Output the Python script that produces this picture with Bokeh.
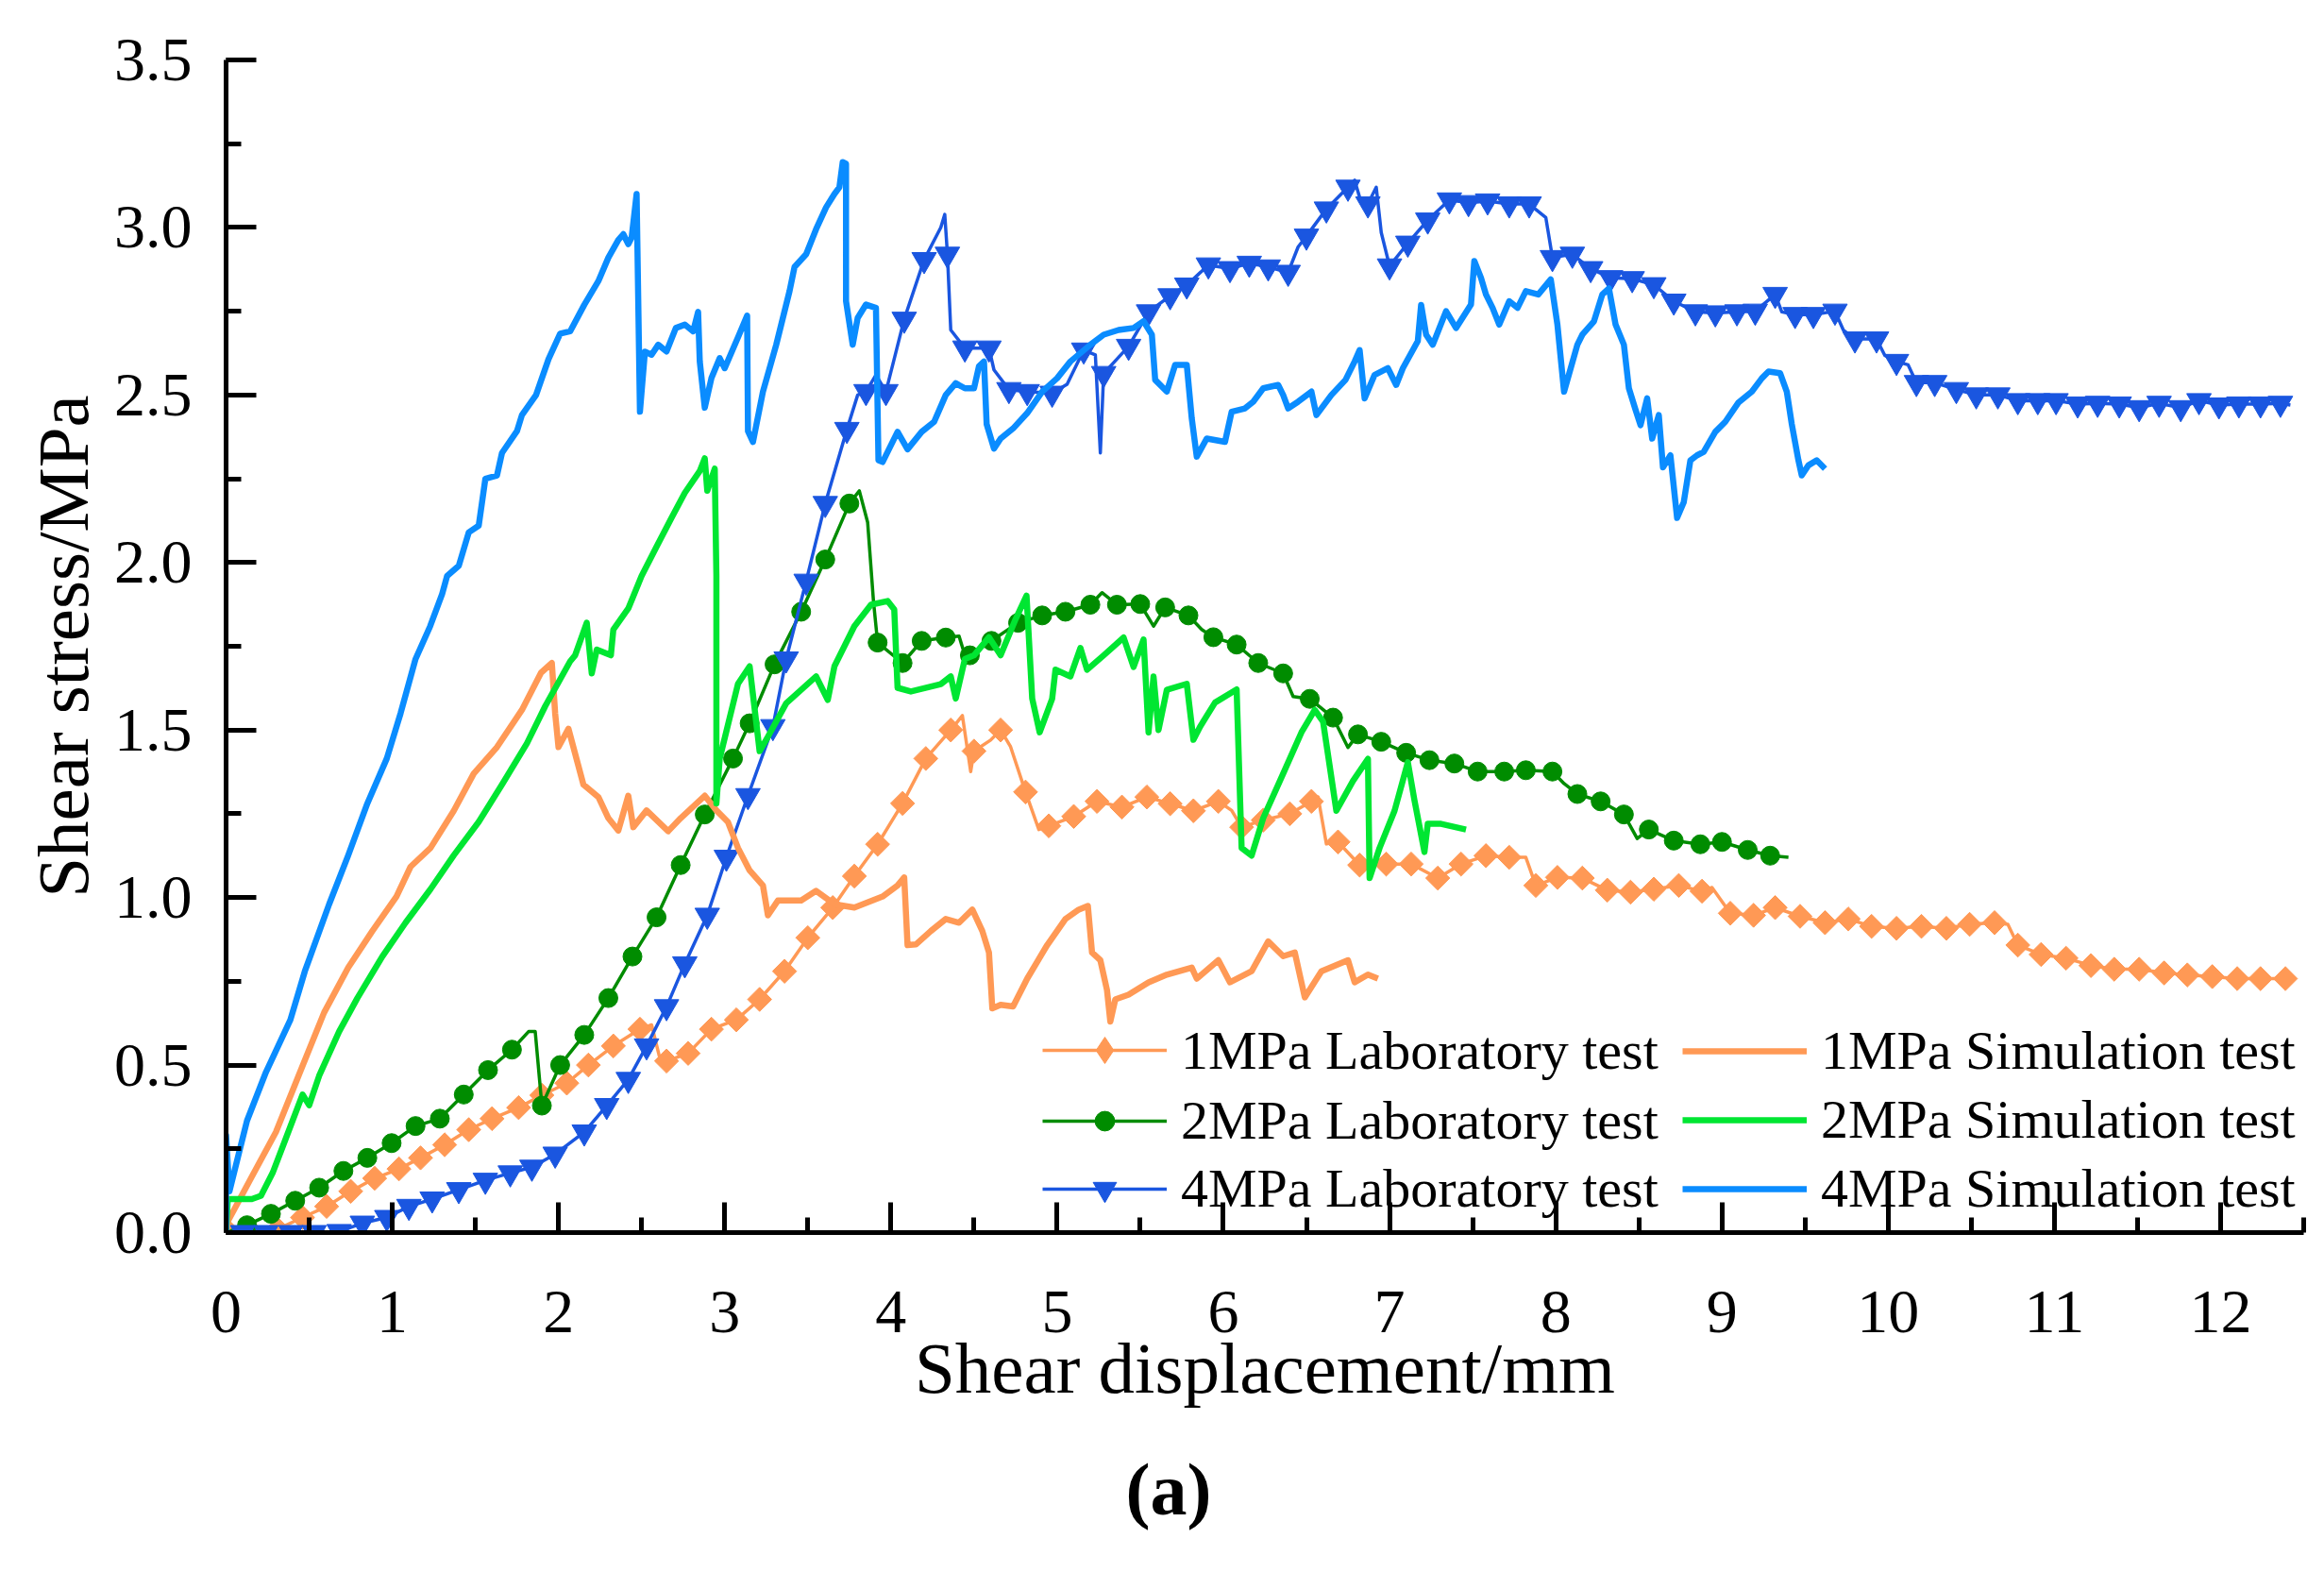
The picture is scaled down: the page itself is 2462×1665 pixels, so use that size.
import numpy as np
from bokeh.plotting import figure
from bokeh.models import (Range1d, SingleIntervalTicker, PrintfTickFormatter,
                          Legend, LegendItem, Title)
from bokeh.embed import file_html
from bokeh.resources import INLINE

FONT = "Liberation Serif"

# ---------------- data ----------------
# 1MPa laboratory test: line vertices and marker positions
lab1_line = [(0.0,0.0),(0.02,0.0),(0.16,0.0),(0.31,0.01),(0.46,0.045),(0.605,0.078),(0.75,0.123),
    (0.894,0.162),(1.04,0.19),(1.17,0.223),(1.315,0.262),(1.46,0.307),(1.60,0.34),(1.76,0.373),
    (1.90,0.41),(2.05,0.446),(2.18,0.50),(2.33,0.557),(2.49,0.607),(2.56,0.62),(2.62,0.50),
    (2.65,0.512),(2.78,0.535),(2.92,0.607),(3.07,0.635),(3.21,0.696),(3.36,0.78),(3.50,0.88),
    (3.65,0.97),(3.78,1.064),(3.92,1.159),(4.07,1.281),(4.21,1.415),(4.36,1.50),(4.43,1.543),
    (4.48,1.376),(4.50,1.437),(4.60,1.47),(4.66,1.50),(4.72,1.45),(4.81,1.315),(4.89,1.203),
    (4.95,1.214),(5.10,1.242),(5.24,1.287),(5.39,1.27),(5.54,1.30),(5.68,1.28),(5.82,1.259),
    (5.97,1.287),(6.05,1.26),(6.11,1.21),(6.24,1.231),(6.40,1.25),(6.53,1.287),(6.57,1.30),
    (6.62,1.16),(6.69,1.166),(6.82,1.097),(6.98,1.10),(7.13,1.10),(7.29,1.058),(7.43,1.10),
    (7.58,1.125),(7.72,1.12),(7.82,1.12),(7.88,1.036),(8.01,1.06),(8.16,1.058),(8.31,1.022),
    (8.45,1.016),(8.59,1.025),(8.74,1.036),(8.88,1.019),(8.94,1.03),(9.05,0.953),(9.19,0.947),
    (9.32,0.97),(9.47,0.944),(9.62,0.925),(9.76,0.936),(9.90,0.914),(10.05,0.908),(10.20,0.914),
    (10.35,0.908),(10.49,0.92),(10.64,0.925),(10.72,0.92),(10.78,0.858),(10.92,0.83),(11.07,0.819),
    (11.22,0.797),(11.36,0.786),(11.51,0.786),(11.66,0.775),(11.80,0.769),(11.95,0.764),
    (12.10,0.758),(12.24,0.758),(12.39,0.758)]
lab1_marks = [(0.02,0.0),(0.16,0.0),(0.31,0.01),(0.46,0.045),(0.605,0.078),(0.75,0.123),(0.894,0.162),
    (1.04,0.19),(1.17,0.223),(1.315,0.262),(1.46,0.307),(1.60,0.34),(1.76,0.373),(1.90,0.41),
    (2.05,0.446),(2.18,0.50),(2.33,0.557),(2.49,0.607),(2.65,0.512),(2.78,0.535),(2.92,0.607),
    (3.07,0.635),(3.21,0.696),(3.36,0.78),(3.50,0.88),(3.65,0.97),(3.78,1.064),(3.92,1.159),
    (4.07,1.281),(4.21,1.415),(4.36,1.50),(4.50,1.437),(4.66,1.50),(4.81,1.315),(4.95,1.214),
    (5.10,1.242),(5.24,1.287),(5.39,1.27),(5.54,1.30),(5.68,1.28),(5.82,1.259),(5.97,1.287),
    (6.11,1.21),(6.24,1.231),(6.40,1.25),(6.53,1.287),(6.69,1.166),(6.82,1.097),(6.98,1.10),
    (7.13,1.10),(7.29,1.058),(7.43,1.10),(7.58,1.125),(7.72,1.12),(7.88,1.036),(8.01,1.06),
    (8.16,1.058),(8.31,1.022),(8.45,1.016),(8.59,1.025),(8.74,1.036),(8.88,1.019),(9.05,0.953),
    (9.19,0.947),(9.32,0.97),(9.47,0.944),(9.62,0.925),(9.76,0.936),(9.90,0.914),(10.05,0.908),
    (10.20,0.914),(10.35,0.908),(10.49,0.92),(10.64,0.925),(10.78,0.858),(10.92,0.83),
    (11.07,0.819),(11.22,0.797),(11.36,0.786),(11.51,0.786),(11.66,0.775),(11.80,0.769),
    (11.95,0.764),(12.10,0.758),(12.24,0.758),(12.39,0.758)]

# 2MPa laboratory test
lab2_line = [(0.0,0.0),(0.126,0.022),(0.27,0.056),(0.416,0.095),(0.56,0.134),(0.706,0.184),
    (0.85,0.223),(0.996,0.267),(1.14,0.318),(1.286,0.34),(1.43,0.412),(1.576,0.485),(1.72,0.546),
    (1.82,0.60),(1.86,0.60),(1.90,0.379),(2.01,0.50),(2.155,0.59),(2.30,0.70),(2.445,0.824),
    (2.59,0.941),(2.735,1.097),(2.88,1.248),(3.05,1.415),(3.15,1.52),(3.30,1.696),(3.46,1.853),
    (3.605,2.009),(3.75,2.176),(3.81,2.214),(3.86,2.12),(3.895,1.885),(3.92,1.761),(4.07,1.70),
    (4.185,1.766),(4.33,1.776),(4.41,1.78),(4.445,1.723),(4.475,1.723),(4.605,1.766),(4.765,1.82),
    (4.91,1.842),(5.05,1.853),(5.20,1.874),(5.27,1.91),(5.36,1.874),(5.50,1.876),(5.58,1.81),
    (5.65,1.866),(5.79,1.842),(5.87,1.80),(5.94,1.777),(6.08,1.755),(6.21,1.70),(6.36,1.669),
    (6.42,1.60),(6.52,1.593),(6.66,1.537),(6.75,1.448),(6.81,1.487),(6.95,1.465),(7.10,1.432),
    (7.24,1.41),(7.39,1.40),(7.53,1.376),(7.69,1.376),(7.82,1.38),(7.98,1.376),(8.05,1.34),
    (8.13,1.309),(8.27,1.287),(8.41,1.248),(8.49,1.176),(8.56,1.203),(8.71,1.17),(8.87,1.159),
    (9.00,1.166),(9.155,1.142),(9.29,1.125),(9.40,1.12)]
lab2_marks = [(0.126,0.022),(0.27,0.056),(0.416,0.095),(0.56,0.134),(0.706,0.184),(0.85,0.223),
    (0.996,0.267),(1.14,0.318),(1.286,0.34),(1.43,0.412),(1.576,0.485),(1.72,0.546),(1.90,0.379),
    (2.01,0.50),(2.155,0.59),(2.30,0.70),(2.445,0.824),(2.59,0.941),(2.735,1.097),(2.88,1.248),
    (3.05,1.415),(3.15,1.52),(3.30,1.696),(3.46,1.853),(3.605,2.009),(3.75,2.176),(3.92,1.761),
    (4.07,1.70),(4.185,1.766),(4.33,1.776),(4.475,1.723),(4.605,1.766),(4.765,1.82),(4.91,1.842),
    (5.05,1.853),(5.20,1.874),(5.36,1.874),(5.50,1.876),(5.65,1.866),(5.79,1.842),(5.94,1.777),
    (6.08,1.755),(6.21,1.70),(6.36,1.669),(6.52,1.593),(6.66,1.537),(6.81,1.487),(6.95,1.465),
    (7.10,1.432),(7.24,1.41),(7.39,1.40),(7.53,1.376),(7.69,1.376),(7.82,1.38),(7.98,1.376),
    (8.13,1.309),(8.27,1.287),(8.41,1.248),(8.56,1.203),(8.71,1.17),(8.87,1.159),(9.00,1.166),
    (9.155,1.142),(9.29,1.125)]

# 4MPa laboratory test
lab4_line = [(0.0,0.0),(0.1,0.0),(0.24,0.0),(0.39,0.0),(0.53,0.0),(0.68,0.003),(0.82,0.028),
    (0.967,0.045),(1.10,0.078),(1.24,0.10),(1.40,0.128),(1.56,0.156),(1.71,0.178),(1.84,0.195),
    (1.98,0.234),(2.155,0.30),(2.29,0.379),(2.42,0.457),(2.53,0.557),(2.65,0.674),(2.76,0.802),
    (2.895,0.947),(3.01,1.12),(3.14,1.304),(3.29,1.51),(3.37,1.712),(3.49,1.944),(3.605,2.176),
    (3.735,2.397),(3.80,2.50),(3.85,2.51),(3.91,2.56),(3.97,2.51),(4.08,2.726),(4.20,2.904),
    (4.30,3.0),(4.324,3.039),(4.34,2.92),(4.36,2.694),(4.445,2.64),(4.59,2.64),(4.62,2.575),
    (4.71,2.516),(4.82,2.51),(4.97,2.505),(5.06,2.532),(5.16,2.634),(5.23,2.62),(5.26,2.327),
    (5.28,2.564),(5.43,2.645),(5.55,2.748),(5.68,2.796),(5.78,2.828),(5.91,2.888),(6.04,2.877),
    (6.156,2.893),(6.27,2.882),(6.39,2.866),(6.45,2.942),(6.50,2.974),(6.62,3.055),(6.75,3.12),
    (6.79,3.141),(6.82,3.09),(6.87,3.07),(6.92,3.12),(6.95,2.985),(7.0,2.885),(7.11,2.953),
    (7.23,3.022),(7.36,3.082),(7.475,3.074),(7.59,3.079),(7.72,3.07),(7.84,3.07),(7.94,3.03),
    (7.98,2.91),(8.10,2.92),(8.21,2.877),(8.33,2.85),(8.46,2.847),(8.59,2.829),(8.71,2.78),
    (8.84,2.748),(8.96,2.745),(9.09,2.748),(9.20,2.75),(9.32,2.80),(9.36,2.748),(9.44,2.74),
    (9.55,2.74),(9.68,2.75),(9.73,2.694),(9.80,2.667),(9.93,2.667),(9.98,2.618),(10.05,2.60),
    (10.12,2.59),(10.17,2.537),(10.28,2.537),(10.41,2.516),(10.53,2.50),(10.66,2.50),(10.78,2.483),
    (10.90,2.483),(11.01,2.483),(11.14,2.473),(11.26,2.475),(11.39,2.473),(11.51,2.462),
    (11.63,2.475),(11.76,2.462),(11.87,2.483),(11.99,2.47),(12.11,2.473),(12.24,2.473),
    (12.36,2.475),(12.42,2.47)]
lab4_marks = [(0.1,0.0),(0.24,0.0),(0.39,0.0),(0.53,0.0),(0.68,0.003),(0.82,0.028),(0.967,0.045),
    (1.10,0.078),(1.24,0.10),(1.40,0.128),(1.56,0.156),(1.71,0.178),(1.84,0.195),(1.98,0.234),
    (2.155,0.30),(2.29,0.379),(2.42,0.457),(2.53,0.557),(2.65,0.674),(2.76,0.802),(2.895,0.947),
    (3.01,1.12),(3.14,1.304),(3.29,1.51),(3.37,1.712),(3.49,1.944),(3.605,2.176),(3.735,2.397),
    (3.85,2.51),(3.97,2.51),(4.08,2.726),(4.20,2.904),(4.34,2.92),(4.445,2.64),(4.59,2.64),
    (4.71,2.516),(4.82,2.51),(4.97,2.505),(5.16,2.634),(5.28,2.564),(5.43,2.645),(5.55,2.748),
    (5.68,2.796),(5.78,2.828),(5.91,2.888),(6.04,2.877),(6.156,2.893),(6.27,2.882),(6.39,2.866),
    (6.50,2.974),(6.62,3.055),(6.75,3.12),(6.87,3.07),(7.0,2.885),(7.11,2.953),(7.23,3.022),
    (7.36,3.082),(7.475,3.074),(7.59,3.079),(7.72,3.07),(7.84,3.07),(7.98,2.91),(8.10,2.92),
    (8.21,2.877),(8.33,2.85),(8.46,2.847),(8.59,2.829),(8.71,2.78),(8.84,2.748),(8.96,2.745),
    (9.09,2.748),(9.20,2.75),(9.32,2.80),(9.44,2.74),(9.55,2.74),(9.68,2.75),(9.80,2.667),
    (9.93,2.667),(10.05,2.60),(10.17,2.537),(10.28,2.537),(10.41,2.516),(10.53,2.50),(10.66,2.50),
    (10.78,2.483),(10.90,2.483),(11.01,2.483),(11.14,2.473),(11.26,2.475),(11.39,2.473),
    (11.51,2.462),(11.63,2.475),(11.76,2.462),(11.87,2.483),(11.99,2.47),(12.11,2.473),
    (12.24,2.473),(12.36,2.475)]

# 1MPa simulation test
sim1 = [(0.0,0.0),(0.01,0.033),(0.155,0.167),(0.30,0.30),(0.445,0.479),(0.59,0.657),(0.735,0.791),
    (0.88,0.90),(1.025,1.003),(1.11,1.092),(1.23,1.148),(1.37,1.259),(1.49,1.37),(1.63,1.449),
    (1.78,1.56),(1.895,1.671),(1.96,1.70),(1.98,1.549),(2.0,1.449),(2.06,1.504),(2.15,1.337),
    (2.24,1.30),(2.30,1.237),(2.36,1.20),(2.42,1.304),(2.45,1.21),(2.53,1.26),(2.66,1.198),
    (2.735,1.237),(2.88,1.304),(2.95,1.26),(3.02,1.225),(3.08,1.148),(3.15,1.081),(3.23,1.036),
    (3.26,0.947),(3.32,0.991),(3.46,0.991),(3.55,1.02),(3.66,0.98),(3.78,0.97),(3.95,1.003),
    (4.04,1.036),(4.08,1.06),(4.10,0.858),(4.15,0.86),(4.24,0.90),(4.33,0.936),(4.41,0.925),
    (4.49,0.964),(4.55,0.90),(4.59,0.836),(4.61,0.669),(4.66,0.68),(4.735,0.675),(4.82,0.758),
    (4.94,0.858),(5.05,0.936),(5.13,0.964),(5.185,0.975),(5.21,0.836),(5.26,0.813),(5.30,0.724),
    (5.32,0.63),(5.35,0.696),(5.43,0.71),(5.55,0.747),(5.66,0.77),(5.81,0.791),(5.84,0.758),
    (5.97,0.813),(6.04,0.747),(6.17,0.78),(6.27,0.869),(6.36,0.825),(6.43,0.836),(6.49,0.702),
    (6.59,0.78),(6.75,0.813),(6.79,0.747),(6.87,0.77),(6.93,0.758)]

# 2MPa simulation test
sim2 = [(0.0,0.0),(0.01,0.10),(0.155,0.10),(0.21,0.11),(0.28,0.178),(0.358,0.279),(0.46,0.412),
    (0.50,0.38),(0.56,0.468),(0.68,0.60),(0.79,0.70),(0.94,0.824),(1.08,0.925),(1.23,1.025),
    (1.37,1.126),(1.52,1.226),(1.66,1.337),(1.81,1.46),(1.92,1.571),(2.07,1.705),(2.10,1.723),
    (2.17,1.82),(2.20,1.669),(2.23,1.74),(2.315,1.723),(2.33,1.80),(2.42,1.863),(2.50,1.96),
    (2.59,2.047),(2.68,2.133),(2.76,2.208),(2.85,2.273),(2.88,2.311),(2.895,2.214),(2.94,2.28),
    (2.95,1.96),(2.95,1.281),(2.97,1.415),(3.08,1.638),(3.15,1.69),(3.21,1.437),(3.26,1.48),
    (3.37,1.58),(3.55,1.66),(3.62,1.59),(3.66,1.69),(3.78,1.81),(3.88,1.874),(3.98,1.885),
    (4.02,1.86),(4.04,1.626),(4.12,1.615),(4.30,1.637),(4.36,1.66),(4.39,1.594),(4.445,1.712),
    (4.50,1.723),(4.59,1.777),(4.66,1.723),(4.75,1.831),(4.816,1.901),(4.85,1.594),(4.895,1.493),
    (4.97,1.593),(4.99,1.68),(5.08,1.66),(5.14,1.745),(5.18,1.68),(5.28,1.723),(5.40,1.776),
    (5.46,1.688),(5.52,1.77),(5.55,1.493),(5.58,1.66),(5.61,1.5),(5.66,1.62),(5.78,1.638),
    (5.82,1.471),(5.86,1.51),(5.95,1.582),(6.08,1.621),(6.11,1.148),(6.17,1.125),(6.24,1.237),
    (6.36,1.37),(6.47,1.493),(6.55,1.56),(6.60,1.525),(6.68,1.259),(6.78,1.348),(6.87,1.414),
    (6.88,1.058),(6.94,1.148),(7.03,1.259),(7.11,1.404),(7.15,1.29),(7.21,1.136),(7.23,1.22),
    (7.31,1.22),(7.46,1.203)]

# 4MPa simulation test
sim4 = [(0.0,0.0),(0.0,0.29),(0.02,0.123),(0.126,0.334),(0.24,0.479),(0.387,0.635),(0.474,0.78),
    (0.62,0.98),(0.735,1.126),(0.85,1.281),(0.967,1.415),(1.05,1.55),(1.14,1.712),(1.228,1.81),
    (1.30,1.906),(1.33,1.96),(1.40,1.99),(1.46,2.09),(1.52,2.11),(1.56,2.25),(1.63,2.26),
    (1.66,2.327),(1.75,2.392),(1.78,2.44),(1.865,2.50),(1.94,2.607),(2.01,2.683),(2.07,2.69),
    (2.155,2.769),(2.24,2.84),(2.30,2.91),(2.36,2.963),(2.39,2.98),(2.42,2.95),(2.44,2.97),
    (2.47,3.10),(2.49,2.45),(2.52,2.629),(2.56,2.62),(2.60,2.65),(2.65,2.63),(2.706,2.70),
    (2.76,2.71),(2.81,2.69),(2.84,2.748),(2.85,2.60),(2.88,2.462),(2.92,2.55),(2.97,2.61),
    (3.0,2.58),(3.08,2.672),(3.135,2.737),(3.14,2.392),(3.17,2.36),(3.23,2.51),(3.31,2.65),
    (3.39,2.81),(3.42,2.882),(3.49,2.92),(3.55,2.995),(3.61,3.06),(3.66,3.10),(3.69,3.12),
    (3.71,3.195),(3.73,3.19),(3.73,2.78),(3.77,2.65),(3.80,2.73),(3.85,2.77),(3.91,2.76),
    (3.925,2.305),(3.95,2.30),(4.04,2.39),(4.10,2.338),(4.185,2.39),(4.26,2.42),(4.33,2.50),
    (4.39,2.535),(4.445,2.52),(4.50,2.52),(4.53,2.586),(4.56,2.60),(4.576,2.413),(4.62,2.34),
    (4.66,2.37),(4.735,2.40),(4.82,2.446),(4.91,2.51),(5.0,2.55),(5.08,2.60),(5.20,2.65),
    (5.28,2.68),(5.37,2.694),(5.46,2.70),(5.52,2.72),(5.57,2.68),(5.59,2.545),(5.66,2.51),
    (5.71,2.59),(5.78,2.59),(5.81,2.43),(5.84,2.316),(5.90,2.37),(6.01,2.36),(6.05,2.45),
    (6.13,2.46),(6.18,2.48),(6.24,2.52),(6.33,2.53),(6.36,2.50),(6.39,2.46),(6.45,2.48),
    (6.53,2.51),(6.56,2.44),(6.65,2.50),(6.735,2.545),(6.79,2.60),(6.82,2.634),(6.85,2.49),
    (6.91,2.56),(6.99,2.58),(7.04,2.53),(7.08,2.58),(7.17,2.661),(7.19,2.769),(7.22,2.68),
    (7.26,2.65),(7.34,2.75),(7.40,2.70),(7.49,2.77),(7.51,2.90),(7.55,2.85),(7.58,2.80),
    (7.62,2.76),(7.66,2.71),(7.72,2.78),(7.77,2.76),(7.82,2.81),(7.895,2.80),(7.97,2.845),
    (8.01,2.71),(8.05,2.51),(8.13,2.65),(8.16,2.68),(8.23,2.72),(8.28,2.80),(8.32,2.818),
    (8.36,2.71),(8.41,2.65),(8.44,2.52),(8.48,2.456),(8.51,2.41),(8.55,2.49),(8.58,2.37),
    (8.62,2.44),(8.645,2.284),(8.69,2.32),(8.73,2.133),(8.77,2.18),(8.81,2.305),(8.85,2.32),
    (8.89,2.33),(8.96,2.39),(9.02,2.42),(9.10,2.478),(9.18,2.51),(9.24,2.55),(9.28,2.57),
    (9.35,2.565),(9.39,2.51),(9.42,2.413),(9.46,2.305),(9.48,2.26),(9.52,2.29),(9.57,2.305),
    (9.62,2.28)]

labels_lab = ["1MPa Laboratory test", "2MPa Laboratory test", "4MPa Laboratory test"]
labels_sim = ["1MPa Simulation test", "2MPa Simulation test", "4MPa Simulation test"]
panel_tag = "(a)"

ORANGE = "#FF9955"
DKGREEN = "#008C00"
GREEN = "#00E632"
BLUE = "#1A56E0"
LTBLUE = "#0A8CFF"


def xs(pts):
    return [p[0] for p in pts]


def ys(pts):
    return [p[1] for p in pts]


p = figure(frame_width=2201, frame_height=1242,
           x_range=Range1d(0, 12.5), y_range=Range1d(0, 3.5),
           output_backend="svg", toolbar_location=None,
           min_border_left=239, min_border_right=14, min_border_top=63, min_border_bottom=340,
           background_fill_color="white", border_fill_color="white")
p.outline_line_color = None
p.grid.visible = False

p.xaxis.ticker = SingleIntervalTicker(interval=1, num_minor_ticks=2)
p.yaxis.ticker = SingleIntervalTicker(interval=0.5, num_minor_ticks=2)
p.yaxis.formatter = PrintfTickFormatter(format="%.1f")
p.xaxis.axis_label = "Shear displacement/mm"
p.yaxis.axis_label = "Shear stress/MPa"

for ax in (p.xaxis[0], p.yaxis[0]):
    ax.axis_line_width = 5
    ax.axis_line_color = "black"
    ax.major_tick_line_width = 5
    ax.minor_tick_line_width = 5
    ax.major_tick_line_color = "black"
    ax.minor_tick_line_color = "black"
    ax.major_tick_in = 32
    ax.major_tick_out = 0
    ax.minor_tick_in = 16
    ax.minor_tick_out = 0
    ax.major_label_text_font = FONT
    ax.major_label_text_font_size = "66px"
    ax.major_label_text_color = "black"
    ax.axis_label_text_font = FONT
    ax.axis_label_text_font_size = "77px"
    ax.axis_label_text_font_style = "normal"
    ax.axis_label_text_color = "black"

p.xaxis.major_label_standoff = 62
p.yaxis.major_label_standoff = 36
p.xaxis.axis_label_standoff = -8
p.yaxis.axis_label_standoff = 8

LAB_W = 3.5
SIM_W = 6.5

l1 = p.line(xs(lab1_line), ys(lab1_line), color=ORANGE, line_width=LAB_W, line_join="round")
m1 = p.scatter(xs(lab1_marks), ys(lab1_marks), marker="square", angle=np.pi / 4, size=18,
               fill_color=ORANGE, line_color=ORANGE)
# same points as an upright diamond, hidden in the plot, used only for the legend key
k1 = p.scatter(xs(lab1_marks), ys(lab1_marks), marker="diamond", size=30,
               fill_color=ORANGE, line_color=ORANGE, visible=False)
l2 = p.line(xs(lab2_line), ys(lab2_line), color=DKGREEN, line_width=LAB_W, line_join="round")
m2 = p.scatter(xs(lab2_marks), ys(lab2_marks), marker="circle", size=20,
               fill_color=DKGREEN, line_color=DKGREEN)
l4 = p.line(xs(lab4_line), ys(lab4_line), color=BLUE, line_width=LAB_W, line_join="round")
m4 = p.scatter(xs(lab4_marks), ys(lab4_marks), marker="inverted_triangle", size=26,
               fill_color=BLUE, line_color=BLUE)

s1 = p.line(xs(sim1), ys(sim1), color=ORANGE, line_width=SIM_W, line_join="round")
s2 = p.line(xs(sim2), ys(sim2), color=GREEN, line_width=SIM_W, line_join="round")
s4 = p.line(xs(sim4), ys(sim4), color=LTBLUE, line_width=SIM_W, line_join="round")


def make_legend(items, loc, glyph_h):
    lg = Legend(items=items, location=loc)
    lg.label_text_font = FONT
    lg.label_text_font_size = "58px"
    lg.label_text_color = "black"
    lg.glyph_width = 132
    lg.glyph_height = glyph_h
    lg.label_height = 66
    lg.label_standoff = 15
    lg.spacing = 6
    lg.padding = 0
    lg.margin = 0
    lg.border_line_alpha = 0
    lg.background_fill_alpha = 0
    lg.inactive_fill_alpha = 0
    return lg


# laboratory keys: one legend per row so each marker key gets its own size
p.add_layout(make_legend([LegendItem(label=labels_lab[0], renderers=[l1, k1])], (865, 158), 70))
p.add_layout(make_legend([LegendItem(label=labels_lab[1], renderers=[l2, m2])], (865, 85), 52))
p.add_layout(make_legend([LegendItem(label=labels_lab[2], renderers=[l4, m4])], (865, 13), 62))
p.add_layout(make_legend([LegendItem(label=labels_sim[0], renderers=[s1]),
                          LegendItem(label=labels_sim[1], renderers=[s2]),
                          LegendItem(label=labels_sim[2], renderers=[s4])], (1543, 13), 60))

tag = Title(text=panel_tag, align="left", offset=953, standoff=74, vertical_align="bottom",
            text_font=FONT, text_font_size="78px", text_font_style="bold", text_color="black")
p.add_layout(tag, "below")

open("out.html", "w").write(file_html(p, INLINE))
